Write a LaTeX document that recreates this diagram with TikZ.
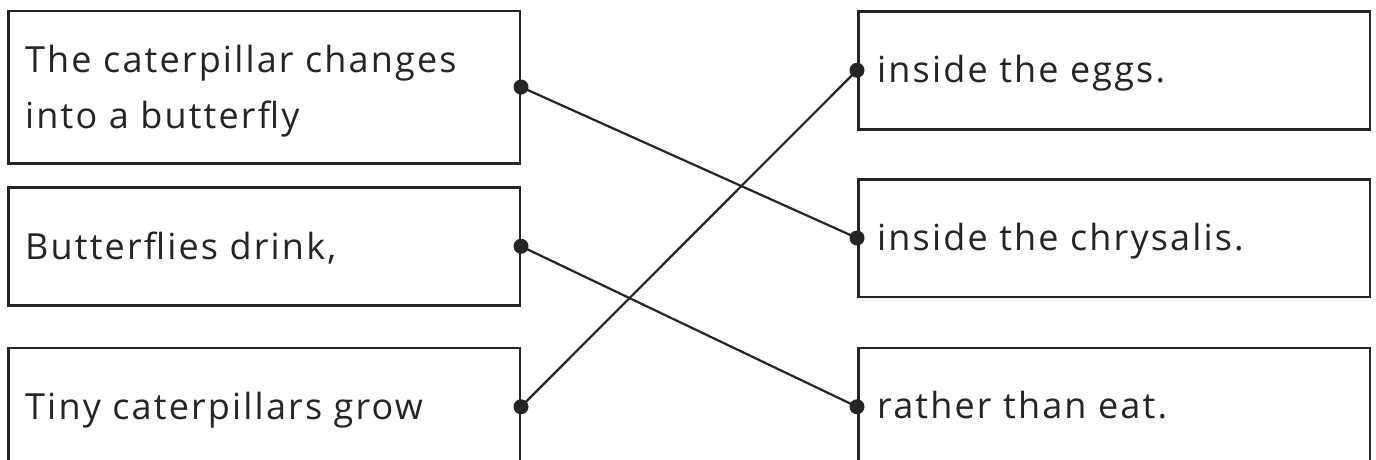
\documentclass[tikz,border=0pt]{standalone}
\usepackage{fontspec}
\setmainfont[LetterSpace=6]{Open Sans}
\definecolor{ink}{HTML}{262425}
\begin{document}
\begin{tikzpicture}[x=1pt,y=-1pt,
  box/.style={draw=ink,line width=2.5pt,minimum width=511.5pt,inner sep=0pt,anchor=north west},
  lbl/.style={anchor=base west,inner sep=0pt,text=ink,font=\fontsize{36}{56}\selectfont},
  link/.style={draw=ink,line width=2.2pt},
  dotfill/.style={fill=ink}]
\useasboundingbox (0,0) rectangle (1376,459);
\fill[white] (0,0) rectangle (1376,459);
\clip (0,0) rectangle (1376,459);
% left boxes
\node[box,minimum height=152.5pt] (L1) at (7,9.5) {};
\node[box,minimum height=118pt] (L2) at (7,186) {};
\node[box,minimum height=118pt] (L3) at (7,346.5) {};
% right boxes
\node[box,minimum height=118pt] (R1) at (857,10) {};
\node[box,minimum height=117.5pt] (R2) at (857,178) {};
\node[box,minimum height=118pt] (R3) at (857,346.5) {};
% texts
\node[lbl] (tL1a) at (25,72) {The caterpillar changes};
\node[lbl] (tL1b) at (25,128) {into a butterfly};
\node[lbl] (tL2) at (25,259) {Butterflies drink,};
\node[lbl] (tL3) at (25,419) {Tiny caterpillars grow};
\node[lbl] (tR1) at (877,82) {inside the eggs.};
\node[lbl] (tR2) at (877,250) {inside the chrysalis.};
\node[lbl] (tR3) at (877,418) {rather than eat.};
% connectors
\draw[link] (L1.east) -- (R2.west);
\draw[link] (L2.east) -- (R3.west);
\draw[link] (L3.east) -- (R1.west);
% dots
\foreach \n in {L1,L2,L3}{\fill[dotfill] (\n.east) circle (7.5pt);}
\foreach \n in {R1,R2,R3}{\fill[dotfill] (\n.west) circle (7.5pt);}
\end{tikzpicture}
\end{document}
